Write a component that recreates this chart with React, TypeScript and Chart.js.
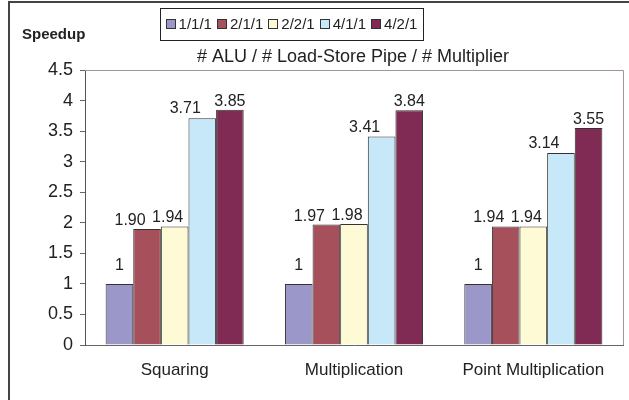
import React, { useEffect, useRef } from "react";
import { Chart, registerables } from "chart.js";

Chart.register(...registerables);

const categories = ["Squaring", "Multiplication", "Point Multiplication"];
const seriesNames = ["1/1/1", "2/1/1", "2/2/1", "4/1/1", "4/2/1"];
const s111 = [1, 1, 1];
const s211 = [1.9, 1.97, 1.94];
const s221 = [1.94, 1.98, 1.94];
const s411 = [3.71, 3.41, 3.14];
const s421 = [3.85, 3.84, 3.55];
const labels111 = ["1", "1", "1"];
const labels211 = ["1.90", "1.97", "1.94"];
const labels221 = ["1.94", "1.98", "1.94"];
const labels411 = ["3.71", "3.41", "3.14"];
const labels421 = ["3.85", "3.84", "3.55"];
const colors = ["#9c97c9", "#a5505b", "#fffad6", "#c7e8f8", "#7f2b53"];
const yTitle = "Speedup";
const subtitle = "# ALU / # Load-Store Pipe / # Multiplier";

const FONT = "'Liberation Sans', Arial, sans-serif";
const TXT = "#222";

// label placement styles per series (offsets in px)
const labelDx = [0, -17, -7, -17, 0];
const labelDy = [14, 4, 4, 5, 4];

const decorPlugin = {
  id: "decor",
  afterDraw(chart: any) {
    const ctx = chart.ctx as CanvasRenderingContext2D;
    const ca = chart.chartArea;
    ctx.save();
    // outer border (left + top)
    ctx.strokeStyle = "#444";
    ctx.lineWidth = 2;
    ctx.beginPath();
    ctx.moveTo(9, 400);
    ctx.lineTo(9, 2);
    ctx.lineTo(629, 2);
    ctx.stroke();

    // plot area top/right border
    ctx.strokeStyle = "#a39595";
    ctx.lineWidth = 1;
    ctx.beginPath();
    ctx.moveTo(ca.left, Math.round(ca.top) + 0.5);
    ctx.lineTo(Math.round(ca.right) + 0.5, Math.round(ca.top) + 0.5);
    ctx.lineTo(Math.round(ca.right) + 0.5, ca.bottom);
    ctx.stroke();

    // y title
    ctx.fillStyle = TXT;
    ctx.font = `bold 15px ${FONT}`;
    ctx.textAlign = "left";
    ctx.textBaseline = "middle";
    ctx.fillText(yTitle, 22, 35);

    // subtitle
    ctx.font = `18px ${FONT}`;
    ctx.textAlign = "center";
    ctx.fillText(subtitle, 353, 57);

    // legend
    const ds = chart.data.datasets;
    ctx.font = `15px ${FONT}`;
    const box = 10;
    const gap = 3;
    const spacing = 5;
    const widths = ds.map((d: any) => box + gap + ctx.measureText(d.label).width);
    const total = widths.reduce((a: number, b: number) => a + b, 0) + spacing * (ds.length - 1);
    const lx0 = 291.5 - total / 2;
    const padX = 6;
    ctx.strokeStyle = "#222";
    ctx.lineWidth = 1;
    ctx.strokeRect(Math.round(lx0 - padX) + 0.5, 8.5, Math.round(total + padX * 2 - 1), 32);
    let x = lx0;
    const cy = 24;
    ds.forEach((d: any, i: number) => {
      ctx.fillStyle = d.backgroundColor;
      ctx.fillRect(Math.round(x), cy - 5, box, box);
      ctx.strokeStyle = "#333";
      ctx.strokeRect(Math.round(x) + 0.5, cy - 5 + 0.5, box - 1, box - 1);
      ctx.fillStyle = TXT;
      ctx.textAlign = "left";
      ctx.textBaseline = "middle";
      ctx.fillText(d.label, x + box + gap, cy + 1);
      x += widths[i] + spacing;
    });

    // data labels
    ctx.font = `16px ${FONT}`;
    ctx.fillStyle = TXT;
    ctx.textAlign = "center";
    ctx.textBaseline = "alphabetic";
    ds.forEach((d: any, i: number) => {
      const meta = chart.getDatasetMeta(i);
      meta.data.forEach((el: any, j: number) => {
        ctx.fillText(d.valueLabels[j], el.x + labelDx[i], el.y - labelDy[i]);
      });
    });
    ctx.restore();
  },
};

export default function App() {
  const ref = useRef<HTMLCanvasElement>(null);
  useEffect(() => {
    document.body.style.margin = "0";
    const series = [s111, s211, s221, s411, s421];
    const vlabels = [labels111, labels211, labels221, labels411, labels421];
    const chart = new Chart(ref.current!, {
      type: "bar",
      data: {
        labels: categories,
        datasets: seriesNames.map((name, i) => ({
          label: name,
          data: series[i],
          backgroundColor: colors[i],
          borderColor: "#333",
          borderWidth: 1,
          categoryPercentage: 0.77,
          barPercentage: 1,
          valueLabels: vlabels[i],
        })) as any,
      },
      options: {
        animation: false,
        responsive: false,
        maintainAspectRatio: false,
        layout: { padding: { top: 70, right: 6, left: 0, bottom: 0 } },
        plugins: {
          legend: { display: false },
          title: { display: false },
          tooltip: { enabled: false },
        },
        scales: {
          x: {
            grid: { display: false, drawTicks: false },
            border: { display: true, color: "#666", width: 1 },
            ticks: { color: TXT, font: { family: FONT, size: 17 }, padding: 15 },
            afterFit: (s: any) => {
              s.height = 55;
            },
          },
          y: {
            min: 0,
            max: 4.5,
            ticks: {
              stepSize: 0.5,
              color: TXT,
              font: { family: FONT, size: 18 },
              padding: 7,
              callback: (v: any) => String(v),
            },
            grid: { drawOnChartArea: false, drawTicks: true, tickLength: 5, color: "#666" },
            border: { display: true, color: "#555", width: 1 },
            afterFit: (s: any) => {
              s.width = 85;
            },
          },
        },
      },
      plugins: [decorPlugin],
    });
    return () => chart.destroy();
  }, []);
  return (
    <div style={{ width: 629, height: 400 }}>
      <canvas ref={ref} width={629} height={400} style={{ display: "block" }} />
    </div>
  );
}
